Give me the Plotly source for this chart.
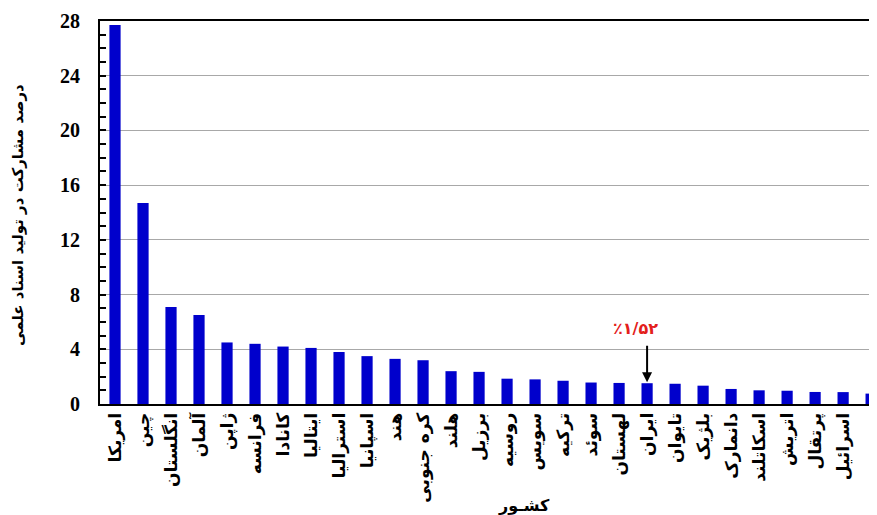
import plotly.graph_objects as go

countries = ["امریکا", "چین", "انگلستان", "آلمان", "ژاپن", "فرانسه", "کانادا", "ایتالیا",
             "استرالیا", "اسپانیا", "هند", "کره جنوبی", "هلند", "برزیل", "روسیه", "سویس",
             "ترکیه", "سوئد", "لهستان", "ایران", "تایوان", "بلژیک", "دانمارک", "اسکاتلند",
             "اتریش", "پرتقال", "اسرائیل", "مکزیک"]
shares = [27.7, 14.7, 7.1, 6.5, 4.5, 4.4, 4.2, 4.1,
          3.8, 3.5, 3.3, 3.2, 2.4, 2.35, 1.85, 1.8,
          1.7, 1.57, 1.54, 1.52, 1.48, 1.34, 1.1, 1.0,
          0.97, 0.88, 0.87, 0.76]
y_ticks = [0, 4, 8, 12, 16, 20, 24, 28]
iran_label = "٪۱/۵۲"
x_title = "کشـور"
y_title = "درصد مشارکت در تولید اسناد علمی"

idx = list(range(len(countries)))
iran_i = countries.index("ایران")

# page body has an 8px default margin; figure sized to fit the 877x515 window
PLOT_L, PLOT_B, PLOT_W, PLOT_H = 100, 404, 777, 383

fig = go.Figure()
fig.add_trace(go.Bar(x=idx, y=shares, width=0.4, marker=dict(color="#0000cc", line=dict(width=0))))

fig.update_layout(
    width=869, height=507,
    margin=dict(l=92, r=0, t=13, b=111),
    paper_bgcolor="white", plot_bgcolor="white",
    showlegend=False,
)
fig.update_xaxes(
    range=[-0.536, 27.21],
    tickmode="array", tickvals=idx, ticktext=countries,
    tickangle=-90,
    tickfont=dict(family="DejaVu Sans", size=17, color="black", weight="bold"),
    showline=True, linecolor="black", linewidth=2, mirror=True,
    ticks="", showgrid=False, zeroline=False,
)
fig.update_yaxes(
    range=[0, 28],
    tickmode="array", tickvals=y_ticks,
    tickfont=dict(family="Liberation Serif", size=20, color="black", weight="bold"),
    showline=True, linecolor="black", linewidth=2,
    ticks="inside", ticklen=6, tickwidth=2, tickcolor="black",
    minor=dict(dtick=1, ticks="inside", ticklen=6, tickwidth=2, tickcolor="black", showgrid=False),
    showgrid=True, gridcolor="#a8a8a8", gridwidth=1, zeroline=False,
    ticklabelstandoff=14,
)

fig.add_annotation(x=iran_i, y=shares[iran_i], xref="x", yref="y", text="",
                   showarrow=True, arrowhead=2, arrowsize=1, arrowwidth=2, arrowcolor="black",
                   ax=0, ay=-39, standoff=1)
fig.add_annotation(x=iran_i - 0.4, y=shares[iran_i], xref="x", yref="y", text=iran_label,
                   showarrow=False, yshift=55,
                   font=dict(family="DejaVu Sans", size=16, color="#e3201b", weight="bold"))
fig.add_annotation(x=(524 - PLOT_L) / PLOT_W, y=-(505 - PLOT_B) / PLOT_H, xref="paper", yref="paper",
                   text=x_title, showarrow=False, xanchor="center", yanchor="middle",
                   font=dict(family="DejaVu Sans", size=16, color="black", weight="bold"))
fig.add_annotation(x=(18 - PLOT_L) / PLOT_W, y=(PLOT_B - 215) / PLOT_H, xref="paper", yref="paper",
                   text=y_title, showarrow=False, textangle=-90, xanchor="center", yanchor="middle",
                   font=dict(family="DejaVu Sans", size=15, color="black", weight="bold"))

fig.write_html("out.html")
